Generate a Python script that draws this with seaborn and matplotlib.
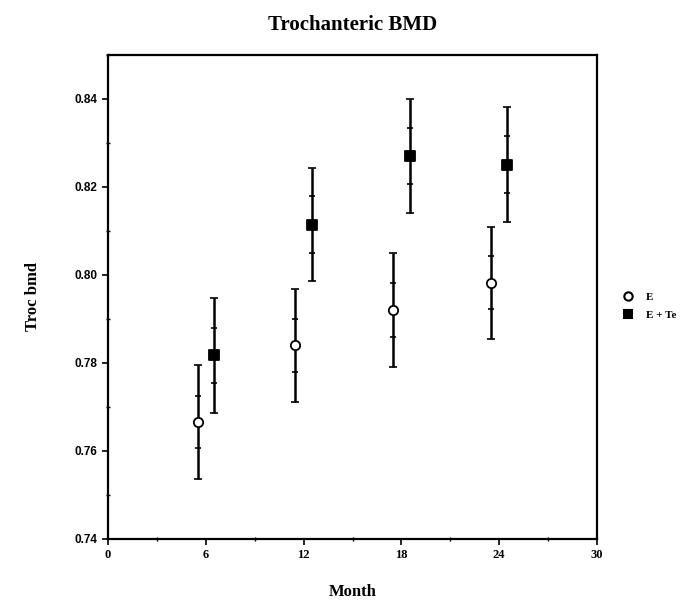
import numpy as np
import pandas as pd
import seaborn as sns
import matplotlib
matplotlib.use("Agg")
import matplotlib.pyplot as plt
from matplotlib.ticker import MultipleLocator

# values
months = [6, 12, 18, 24]
groups = ["E", "E + Te"]
offsets = {"E": -0.5, "E + Te": 0.5}
e_mean = [0.7666, 0.7840, 0.7921, 0.7982]
e_sd = [0.0129, 0.0129, 0.0130, 0.0128]
e_se = [0.0060, 0.0061, 0.0061, 0.0060]
et_mean = [0.7817, 0.8114, 0.8270, 0.8251]
et_sd = [0.0130, 0.0128, 0.0130, 0.0130]
et_se = [0.0063, 0.0065, 0.0064, 0.0065]

df = pd.DataFrame({
    "month": months * 2,
    "group": ["E"] * 4 + ["E + Te"] * 4,
    "bmd": e_mean + et_mean,
    "sd": e_sd + et_sd,
    "se": e_se + et_se,
})
df["x"] = df["month"] + df["group"].map(offsets)

sns.set_style("ticks")
plt.rcParams["font.family"] = ["Liberation Serif", "DejaVu Serif"]
plt.rcParams["text.color"] = "black"
plt.rcParams["axes.labelcolor"] = "black"
plt.rcParams["xtick.color"] = "black"
plt.rcParams["ytick.color"] = "black"

fig = plt.figure(figsize=(6.81, 6.02), dpi=100)
ax = fig.add_axes([0.1586, 0.1047, 0.7181, 0.804])

styles = {
    "E": dict(marker="o", face="white"),
    "E + Te": dict(marker="s", face="black"),
}
handles = []
for g in groups:
    sub = df[df["group"] == g]
    # SD bars with end caps
    ax.errorbar(sub["x"], sub["bmd"], yerr=sub["sd"], fmt="none",
                ecolor="black", elinewidth=1.8, capsize=3, capthick=1.2, zorder=2)
    # SE marks as small ticks on the bar
    ax.errorbar(sub["x"], sub["bmd"], yerr=sub["se"], fmt="none",
                ecolor="black", elinewidth=0, capsize=2.5, capthick=1.2, zorder=2)
    sns.scatterplot(data=sub, x="x", y="bmd", ax=ax, marker=styles[g]["marker"],
                    color=styles[g]["face"], edgecolor="black", linewidth=1.3,
                    s=45, zorder=3, legend=False)
    handles.append(plt.Line2D([], [], ls="none", marker=styles[g]["marker"],
                              markerfacecolor=styles[g]["face"],
                              markeredgecolor="black", markeredgewidth=1.5,
                              markersize=6, label=g))

ax.set_xlim(0, 30)
ax.set_ylim(0.74, 0.85)
ax.set_xticks([0, 6, 12, 18, 24, 30])
ax.set_yticks([0.74, 0.76, 0.78, 0.80, 0.82, 0.84])
ax.xaxis.set_minor_locator(MultipleLocator(3))
ax.yaxis.set_minor_locator(MultipleLocator(0.01))
ax.tick_params(which="major", direction="out", length=4, width=1.2, colors="black")
ax.tick_params(which="minor", direction="inout", length=3, width=1)
for sp in ax.spines.values():
    sp.set_linewidth(1.6)
    sp.set_color("black")

for lab in ax.get_yticklabels():
    lab.set_fontfamily(["Liberation Sans", "DejaVu Sans"])
    lab.set_fontsize(8.5)
    lab.set_fontweight("bold")
for lab in ax.get_xticklabels():
    lab.set_fontsize(9)
    lab.set_fontweight("bold")

ax.set_xlabel("Month", fontsize=12, fontweight="bold", labelpad=16)
ax.set_ylabel("Troc bmd", fontsize=12, fontweight="bold", labelpad=24)
ax.set_title("Trochanteric BMD", fontsize=15, fontweight="bold", pad=18)

ax.legend(handles=handles, loc="upper left", bbox_to_anchor=(1.02, 0.53),
          frameon=False, handletextpad=0.6, labelspacing=0.7,
          prop={"weight": "bold", "size": 8})

fig.savefig("out.png", dpi=100)
